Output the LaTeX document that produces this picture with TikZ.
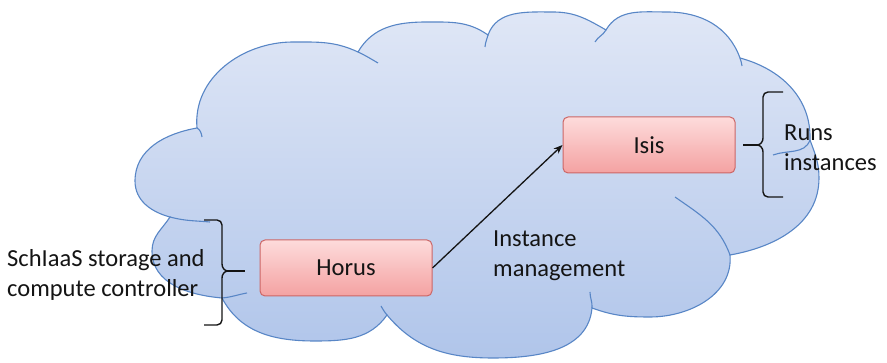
\documentclass[tikz,border=0pt]{standalone}
\usepackage{fontspec}
\setmainfont{Carlito}
\usetikzlibrary{arrows.meta}

\definecolor{cloudtop}{RGB}{224,231,246}
\definecolor{cloudbot}{RGB}{176,197,234}
\definecolor{cloudline}{RGB}{88,134,198}
\definecolor{boxtop}{RGB}{253,219,219}
\definecolor{boxbot}{RGB}{244,162,162}
\definecolor{boxline}{RGB}{204,102,102}
\definecolor{ink}{RGB}{20,20,20}

\begin{document}
\begin{tikzpicture}[x=1pt,y=1pt,
  cloudedge/.style={draw=cloudline, line width=1.1pt},
  comp/.style={rectangle, rounded corners=5pt, minimum width=172pt, minimum height=56pt,
    top color=boxtop, bottom color=boxbot, draw=boxline, line width=1pt,
    font=\fontsize{24.5}{29}\selectfont, text=ink, inner sep=0pt},
  note/.style={align=left, anchor=west, inner sep=0pt,
    font=\fontsize{24.5}{30}\selectfont, text=ink},
  bracket/.style={draw=ink, line width=1.4pt, line join=round},
  flow/.style={draw=ink, line width=1.3pt, -{Stealth[length=9pt,width=7pt]}}
]
\useasboundingbox (0,0) rectangle (887,363);

% cloud body: lobes joined at their cusps
\path[top color=cloudtop, bottom color=cloudbot, cloudedge]
  (170,146) to[out=165,in=-90] (135,182) to[out=90,in=190] (197,235)
  to[out=95,in=180] (293,321) to[out=0,in=155] (358,311)
  to[out=60,in=180] (427,341) to[out=0,in=145] (488,328)
  to[out=70,in=180] (553,351) to[out=0,in=150] (606,333)
  to[out=60,in=180] (667,351) to[out=0,in=110] (740,305)
  to[out=-15,in=88] (810,223)
  to[out=-70,in=90] (819,185) to[out=-90,in=10] (730,108)
  to[out=-85,in=0] (650,46) to[out=180,in=-20] (592,55)
  to[out=-95,in=0] (493,5) to[out=180,in=-50] (387,48)
  to[out=-125,in=0] (315,22) to[out=180,in=-62] (222,65)
  to[out=175,in=-90] (152,112) to[out=90,in=-123] (170,146) -- cycle;

% inner arcs continuing the lobes past the cusps
\draw[cloudedge]
  (197,235) to[out=-30,in=100] (202,226)
  (358,311) to[out=-25,in=150] (378,300)
  (488,328) to[out=-105,in=85] (485,316)
  (606,333) to[out=-120,in=60] (595,321)
  (740,305) to[out=-75,in=95] (742,297)
  (810,223) to[out=-110,in=20] (773,208)
  (730,108) to[out=110,in=-35] (675,166)
  (592,55) to[out=85,in=-90] (590,71)
  (387,48) to[out=130,in=-60] (381,57)
  (222,65) to[out=5,in=190] (247,70)
  (170,146) to[out=-15,in=175] (210,141);

% braces
\coordinate (lbtip) at (245,92);
\coordinate (rbtip) at (743,218);
\draw[bracket] (204,143) -- (217,143) to[out=0,in=90] (222,138) -- (222,99)
  to[out=-90,in=180] (228,92) to[out=180,in=90] (222,85) -- (222,43)
  to[out=-90,in=0] (217,38) -- (204,38);
\draw[bracket] (228,92) -- (lbtip);
\draw[bracket] (783,271) -- (768,271) to[out=180,in=90] (763,266) -- (763,225)
  to[out=-90,in=0] (757,218) to[out=0,in=90] (763,211) -- (763,171)
  to[out=-90,in=180] (768,166) -- (783,166);
\draw[bracket] (757,218) -- (rbtip);

% components
\node[comp] (horus) at (346,95) {Horus};
\node[comp] (isis) at (649,218) {Isis};
\draw[flow] (horus.east) -- (isis.west);

% labels
\node[note] (ctl) at (7,87) {\strut SchIaaS storage and\\\strut compute controller};
\node[note] (mgmt) at (493,107) {\strut Instance\\\strut management};
\node[note] (runs) at (784,213) {\strut Runs\\\strut instances};
\end{tikzpicture}
\end{document}
